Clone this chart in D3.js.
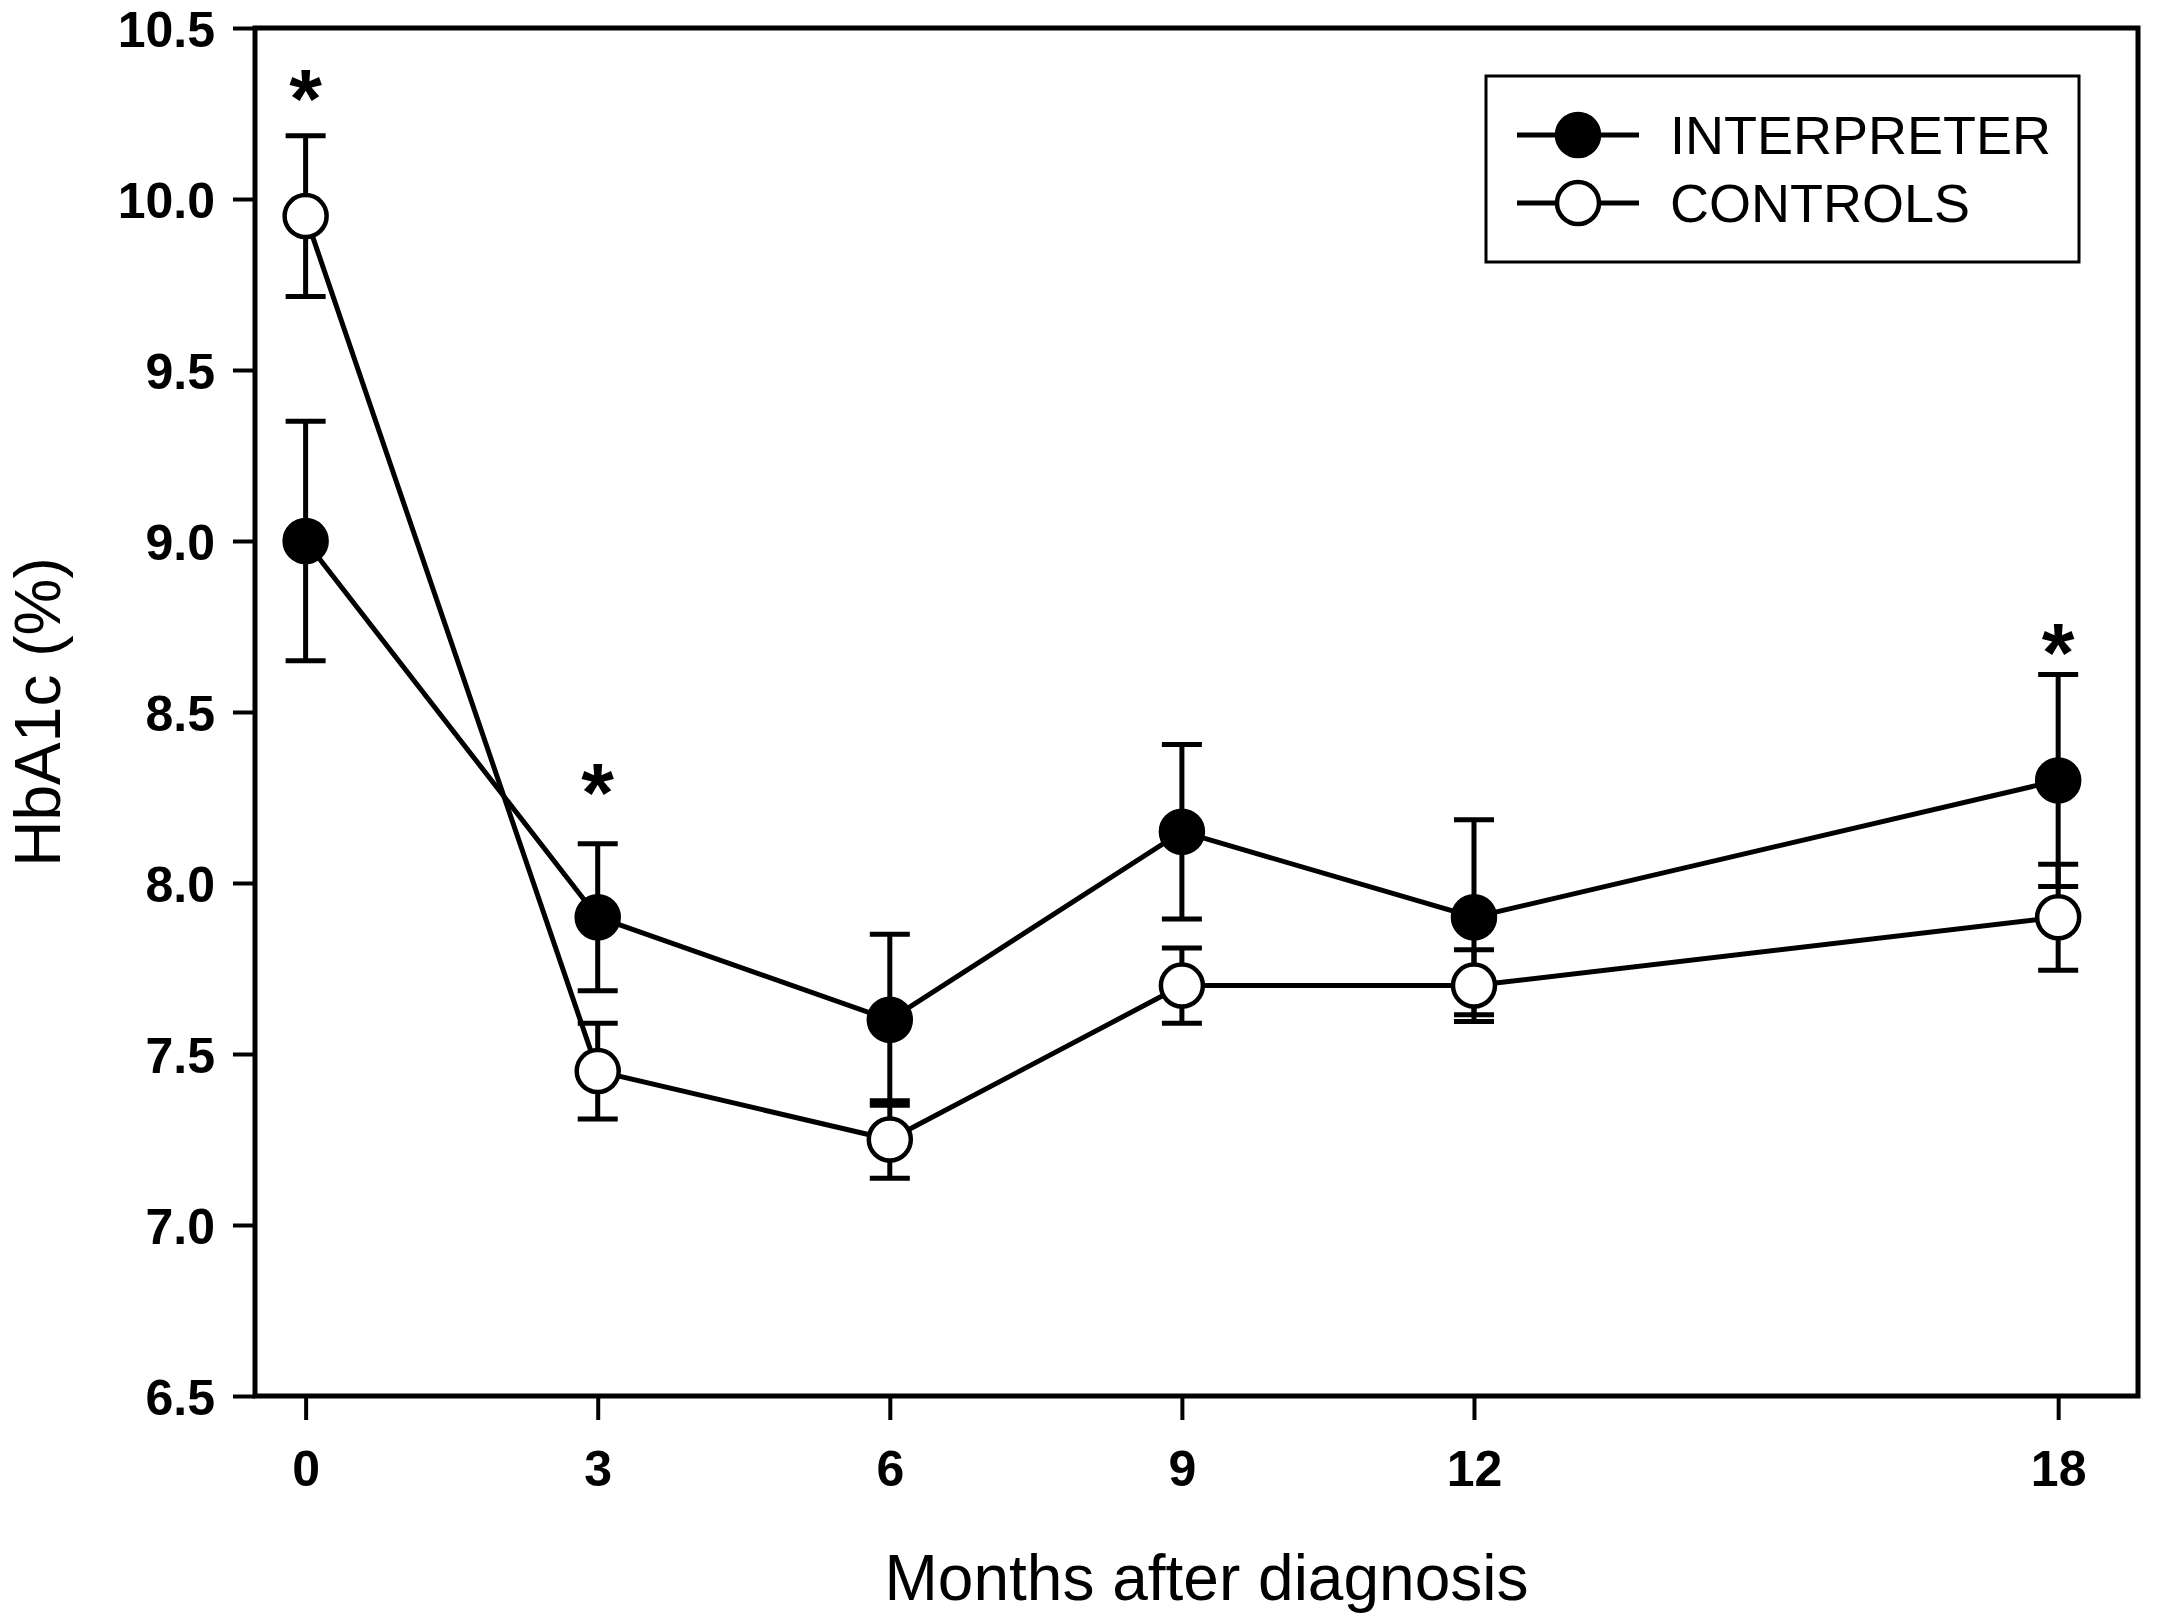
<!DOCTYPE html>
<html>
<head>
<meta charset="utf-8">
<script src="https://cdn.jsdelivr.net/npm/d3@7"></script>
<style>
  body { margin: 0; background: #fff; }
  text { font-family: Arial, "Liberation Sans", sans-serif; }
</style>
</head>
<body>
<script>
var months = [0, 3, 6, 9, 12, 18];
var interpreter = [9.0, 7.9, 7.6, 8.15, 7.9, 8.3];
var interpreterErr = [0.35, 0.215, 0.25, 0.255, 0.285, 0.31];
var controls = [9.95, 7.45, 7.25, 7.7, 7.7, 7.9];
var controlsErr = [0.235, 0.14, 0.113, 0.11, 0.105, 0.155];
var starMonths = [0, 3, 18];
var starValues = [10.35, 8.32, 8.73];
var yTicks = [6.5, 7.0, 7.5, 8.0, 8.5, 9.0, 9.5, 10.0, 10.5];
var seriesNames = ["INTERPRETER", "CONTROLS"];

function init() {
    var w = 2163;
    var h = 1619;
    var left = 255, right = 2138, top = 28, bottom = 1396;

    var svg = d3.select("body").append("svg").attr("width", w).attr("height", h);

    var x = d3.scaleLinear().domain([-0.52, 18.82]).range([left, right]);
    var y = d3.scaleLinear().domain([6.5, 10.5]).range([bottom, top]);

    // frame
    svg.append("rect")
        .attr("x", left).attr("y", top)
        .attr("width", right - left).attr("height", bottom - top)
        .attr("fill", "none").attr("stroke", "black").attr("stroke-width", 5);

    var yAxis = svg.append("g")
        .attr("transform", "translate(" + left + ",0)")
        .call(d3.axisLeft(y).tickValues(yTicks).tickSize(22).tickPadding(18)
            .tickFormat(d3.format(".1f")));
    var xAxis = svg.append("g")
        .attr("transform", "translate(0," + bottom + ")")
        .call(d3.axisBottom(x).tickValues(months).tickSize(24).tickPadding(30));

    [xAxis, yAxis].forEach(function (a) {
        a.select(".domain").remove();
        a.selectAll("line").attr("stroke", "black").attr("stroke-width", 4);
        a.selectAll("text").attr("fill", "black")
            .style("font-size", "50px").style("font-weight", "bold");
    });
    yAxis.selectAll("text").attr("dy", "0.36em");

    var line = d3.line()
        .x(function (d) { return x(d[0]); })
        .y(function (d) { return y(d[1]); });

    var series = [
        { vals: interpreter, err: interpreterErr, fill: "black" },
        { vals: controls, err: controlsErr, fill: "white" }
    ];

    series.forEach(function (s) {
        var pts = months.map(function (m, i) { return [m, s.vals[i], s.err[i]]; });
        var g = svg.append("g");
        g.selectAll(".err").data(pts).enter().append("path")
            .attr("d", function (d) {
                var cx = x(d[0]), y1 = y(d[1] + d[2]), y2 = y(d[1] - d[2]);
                return "M" + (cx - 20) + "," + y1 + "H" + (cx + 20) +
                    "M" + cx + "," + y1 + "V" + y2 +
                    "M" + (cx - 20) + "," + y2 + "H" + (cx + 20);
            })
            .attr("stroke", "black").attr("stroke-width", 5).attr("fill", "none");
        g.append("path").datum(pts).attr("d", line)
            .attr("fill", "none").attr("stroke", "black").attr("stroke-width", 5);
    });

    series.forEach(function (s) {
        var pts = months.map(function (m, i) { return [m, s.vals[i]]; });
        svg.append("g").selectAll("circle").data(pts).enter().append("circle")
            .attr("cx", function (d) { return x(d[0]); })
            .attr("cy", function (d) { return y(d[1]); })
            .attr("r", 21)
            .attr("fill", s.fill).attr("stroke", "black").attr("stroke-width", 4.5);
    });

    // significance stars
    var starSize = 84;
    svg.append("g").selectAll("text").data(starMonths).enter().append("text")
        .attr("x", function (d) { return x(d); })
        .attr("y", function (d, i) { return y(starValues[i]) + starSize * 0.58; })
        .attr("text-anchor", "middle")
        .style("font-size", starSize + "px").style("font-weight", "bold")
        .text("*");

    // legend
    var legend = svg.append("g");
    legend.append("rect")
        .attr("x", 1486).attr("y", 76).attr("width", 593).attr("height", 186)
        .attr("fill", "white").attr("stroke", "black").attr("stroke-width", 3);
    seriesNames.forEach(function (name, i) {
        var ly = 135 + i * 68;
        legend.append("line").attr("x1", 1517).attr("x2", 1639)
            .attr("y1", ly).attr("y2", ly)
            .attr("stroke", "black").attr("stroke-width", 5);
        legend.append("circle").attr("cx", 1578).attr("cy", ly).attr("r", 21)
            .attr("fill", series[i].fill).attr("stroke", "black").attr("stroke-width", 4.5);
        legend.append("text").attr("x", 1670).attr("y", ly).attr("dy", "0.36em")
            .style("font-size", "54px").text(name);
    });

    svg.append("text")
        .attr("x", (left + right) / 2 + 10).attr("y", 1600)
        .attr("text-anchor", "middle")
        .style("font-size", "64px")
        .text("Months after diagnosis");

    svg.append("text")
        .attr("transform", "translate(60," + ((top + bottom) / 2) + ") rotate(-90)")
        .attr("text-anchor", "middle")
        .style("font-size", "64px")
        .text("HbA1c (%)");
}

window.onload = init;
</script>
</body>
</html>
